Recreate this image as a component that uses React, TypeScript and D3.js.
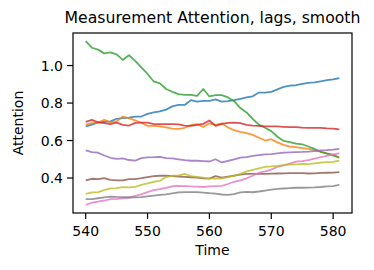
import { useEffect, useRef } from "react";
import * as d3 from "d3";

const times = d3.range(540, 582);

const blue = [0.675, 0.685, 0.697, 0.7, 0.702, 0.716, 0.72, 0.722, 0.728, 0.728, 0.742, 0.75, 0.755, 0.765, 0.782, 0.79, 0.79, 0.815, 0.808, 0.812, 0.812, 0.82, 0.808, 0.81, 0.815, 0.822, 0.83, 0.836, 0.856, 0.856, 0.86, 0.873, 0.886, 0.893, 0.895, 0.902, 0.908, 0.91, 0.916, 0.922, 0.926, 0.933];
const orange = [0.685, 0.693, 0.696, 0.71, 0.697, 0.702, 0.728, 0.72, 0.708, 0.695, 0.678, 0.678, 0.676, 0.67, 0.664, 0.662, 0.668, 0.682, 0.688, 0.672, 0.692, 0.684, 0.692, 0.67, 0.655, 0.646, 0.64, 0.63, 0.615, 0.6, 0.607, 0.59, 0.577, 0.568, 0.565, 0.56, 0.555, 0.549, 0.54, 0.532, 0.526, 0.511];
const green = [1.13, 1.095, 1.085, 1.065, 1.07, 1.06, 1.03, 1.055, 1.025, 0.99, 0.955, 0.915, 0.905, 0.875, 0.86, 0.848, 0.844, 0.844, 0.838, 0.875, 0.835, 0.842, 0.842, 0.83, 0.81, 0.773, 0.75, 0.715, 0.685, 0.668, 0.65, 0.62, 0.598, 0.592, 0.583, 0.58, 0.568, 0.555, 0.54, 0.53, 0.52, 0.508];
const red = [0.7, 0.71, 0.697, 0.693, 0.688, 0.695, 0.684, 0.68, 0.694, 0.696, 0.696, 0.688, 0.688, 0.688, 0.688, 0.686, 0.68, 0.678, 0.684, 0.689, 0.707, 0.678, 0.689, 0.694, 0.696, 0.693, 0.684, 0.68, 0.678, 0.675, 0.675, 0.675, 0.673, 0.671, 0.671, 0.669, 0.668, 0.668, 0.667, 0.665, 0.664, 0.659];
const purple = [0.547, 0.538, 0.535, 0.52, 0.508, 0.502, 0.505, 0.496, 0.493, 0.506, 0.51, 0.511, 0.513, 0.506, 0.505, 0.5, 0.495, 0.492, 0.492, 0.49, 0.488, 0.5, 0.483, 0.492, 0.5, 0.509, 0.511, 0.518, 0.522, 0.526, 0.527, 0.532, 0.535, 0.537, 0.538, 0.539, 0.541, 0.544, 0.547, 0.549, 0.552, 0.556];
const brown = [0.387, 0.396, 0.394, 0.399, 0.39, 0.387, 0.387, 0.394, 0.394, 0.399, 0.405, 0.41, 0.412, 0.412, 0.41, 0.408, 0.406, 0.404, 0.402, 0.398, 0.397, 0.41, 0.402, 0.408, 0.413, 0.418, 0.422, 0.422, 0.422, 0.422, 0.423, 0.424, 0.425, 0.426, 0.426, 0.426, 0.424, 0.425, 0.427, 0.428, 0.429, 0.431];
const pink = [0.257, 0.268, 0.274, 0.28, 0.287, 0.289, 0.292, 0.296, 0.305, 0.313, 0.325, 0.335, 0.341, 0.348, 0.356, 0.358, 0.357, 0.355, 0.354, 0.352, 0.355, 0.357, 0.358, 0.368, 0.38, 0.387, 0.398, 0.412, 0.428, 0.436, 0.445, 0.46, 0.468, 0.477, 0.487, 0.49, 0.495, 0.503, 0.511, 0.518, 0.525, 0.533];
const gray = [0.287, 0.287, 0.292, 0.297, 0.301, 0.299, 0.298, 0.296, 0.297, 0.298, 0.302, 0.306, 0.31, 0.313, 0.318, 0.323, 0.325, 0.325, 0.325, 0.322, 0.319, 0.317, 0.312, 0.31, 0.314, 0.323, 0.326, 0.324, 0.328, 0.333, 0.338, 0.342, 0.344, 0.346, 0.348, 0.348, 0.349, 0.35, 0.352, 0.355, 0.357, 0.364];
const olive = [0.315, 0.323, 0.325, 0.335, 0.345, 0.346, 0.351, 0.35, 0.353, 0.363, 0.372, 0.38, 0.385, 0.405, 0.412, 0.414, 0.422, 0.41, 0.406, 0.402, 0.398, 0.397, 0.398, 0.405, 0.412, 0.422, 0.435, 0.444, 0.452, 0.46, 0.462, 0.465, 0.469, 0.472, 0.473, 0.475, 0.474, 0.478, 0.482, 0.485, 0.486, 0.493];

const series = [blue, orange, green, red, purple, brown, pink, gray, olive];
const colors = ["#1f77b4", "#ff7f0e", "#2ca02c", "#d62728", "#9467bd", "#8c564b", "#e377c2", "#7f7f7f", "#bcbd22"];
const xTicks = [540, 550, 560, 570, 580];
const yTicks = [0.4, 0.6, 0.8, 1.0];

export default function App() {
  const svgRef = useRef<SVGSVGElement>(null);

  useEffect(() => {
    if (!svgRef.current) return;
    const svg = d3.select(svgRef.current);
    svg.selectAll("*").remove();

    const width = 374;
    const height = 270;
    const left = 73;
    const right = 352;
    const top = 33;
    const bottom = 213;
    const font = "DejaVu Sans, sans-serif";

    // matplotlib-style 5% margins
    const xPad = (d3.max(times)! - d3.min(times)!) * 0.05;
    const x = d3
      .scaleLinear()
      .domain([d3.min(times)! - xPad, d3.max(times)! + xPad])
      .range([left, right]);

    const yMin = d3.min(series, (s) => d3.min(s))!;
    const yMax = d3.max(series, (s) => d3.max(s))!;
    const yPad = (yMax - yMin) * 0.05;
    const y = d3
      .scaleLinear()
      .domain([yMin - yPad, yMax + yPad])
      .range([bottom, top]);

    svg.append("rect").attr("width", width).attr("height", height).attr("fill", "white");

    const g = svg.append("g");
    g.append("defs")
      .append("clipPath")
      .attr("id", "plot-clip")
      .append("rect")
      .attr("x", left)
      .attr("y", top)
      .attr("width", right - left)
      .attr("height", bottom - top);

    const line = d3
      .line<number>()
      .x((_, i) => x(times[i]))
      .y((d) => y(d));

    const lines = g.append("g").attr("clip-path", "url(#plot-clip)");
    series.forEach((s, i) => {
      lines
        .append("path")
        .attr("d", line(s))
        .attr("fill", "none")
        .attr("stroke", colors[i])
        .attr("stroke-opacity", 0.8)
        .attr("stroke-width", 1.8)
        .attr("stroke-linejoin", "round");
    });

    // Frame
    g.append("rect")
      .attr("x", left)
      .attr("y", top)
      .attr("width", right - left)
      .attr("height", bottom - top)
      .attr("fill", "none")
      .attr("stroke", "black")
      .attr("stroke-width", 1.2);

    // X ticks
    xTicks.forEach((t) => {
      g.append("line")
        .attr("x1", x(t))
        .attr("x2", x(t))
        .attr("y1", bottom)
        .attr("y2", bottom + 6)
        .attr("stroke", "black")
        .attr("stroke-width", 1.2);
      g.append("text")
        .attr("x", x(t))
        .attr("y", bottom + 23)
        .attr("text-anchor", "middle")
        .attr("font-family", font)
        .attr("font-size", "14px")
        .text(t);
    });

    // Y ticks
    yTicks.forEach((t) => {
      g.append("line")
        .attr("x1", left - 6)
        .attr("x2", left)
        .attr("y1", y(t))
        .attr("y2", y(t))
        .attr("stroke", "black")
        .attr("stroke-width", 1.2);
      g.append("text")
        .attr("x", left - 10)
        .attr("y", y(t))
        .attr("dy", "0.36em")
        .attr("text-anchor", "end")
        .attr("font-family", font)
        .attr("font-size", "14px")
        .text(t.toFixed(1));
    });

    g.append("text")
      .attr("x", (left + right) / 2)
      .attr("y", 255)
      .attr("text-anchor", "middle")
      .attr("font-family", font)
      .attr("font-size", "14px")
      .text("Time");

    g.append("text")
      .attr("transform", `translate(23,${(top + bottom) / 2}) rotate(-90)`)
      .attr("text-anchor", "middle")
      .attr("font-family", font)
      .attr("font-size", "14px")
      .text("Attention");

    g.append("text")
      .attr("x", (left + right) / 2)
      .attr("y", 23)
      .attr("text-anchor", "middle")
      .attr("font-family", font)
      .attr("font-size", "15.7px")
      .text("Measurement Attention, lags, smooth");
  }, []);

  return (
    <svg
      ref={svgRef}
      width={374}
      height={270}
      style={{ position: "absolute", left: 0, top: 0 }}
    ></svg>
  );
}
